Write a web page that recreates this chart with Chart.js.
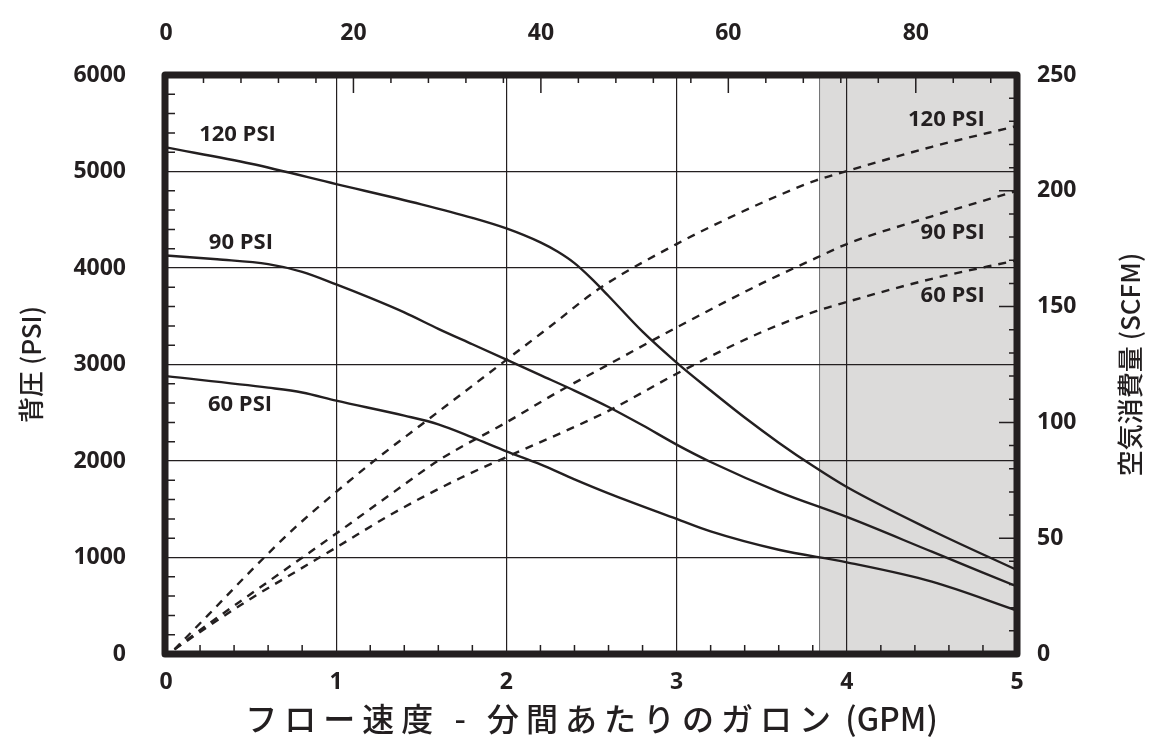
<!DOCTYPE html>
<html>
<head>
<meta charset="utf-8">
<script src="https://cdn.jsdelivr.net/npm/chart.js@4.4.1/dist/chart.umd.min.js"></script>
<style>
  html, body { margin: 0; padding: 0; background: #fff; }
  #wrap { width: 1152px; height: 742px; }
</style>
</head>
<body>
<div id="wrap"><canvas id="grafico" width="1152" height="742"></canvas></div>
<script>
// 背圧 (PSI) - solid curves, left axis
var gpm120 = [0, 0.5, 1.0, 1.5, 1.8, 2.0, 2.2, 2.3, 2.4, 2.5, 2.6, 2.8, 3.0, 3.2, 3.4, 3.6, 3.8, 4.0, 4.5, 5.0];
var psi120 = [5250, 5080, 4870, 4660, 4520, 4410, 4265, 4170, 4050, 3890, 3710, 3340, 3020, 2730, 2450, 2190, 1950, 1730, 1280, 870];

var gpm90 = [0, 0.3, 0.6, 0.8, 1.0, 1.2, 1.4, 1.6, 1.8, 2.0, 2.2, 2.4, 2.6, 2.8, 3.0, 3.2, 3.6, 4.0, 4.5, 5.0];
var psi90 = [4130, 4090, 4040, 3960, 3830, 3690, 3540, 3370, 3210, 3050, 2890, 2730, 2560, 2370, 2170, 1990, 1680, 1420, 1060, 700];

var gpm60 = [0, 0.6, 0.8, 1.0, 1.4, 1.6, 1.8, 2.0, 2.2, 2.4, 2.6, 3.0, 3.2, 3.6, 4.0, 4.5, 5.0];
var psi60 = [2880, 2760, 2710, 2625, 2470, 2380, 2245, 2100, 1965, 1810, 1665, 1400, 1270, 1080, 950, 750, 450];

// 空気消費量 (SCFM) - dashed curves, right axis
var gpmAr120 = [0.05, 0.25, 0.5, 0.75, 1.0, 1.25, 1.5, 1.75, 2.0, 2.25, 2.55, 3.0, 3.3, 3.6, 3.82, 4.0, 4.5, 5.0];
var scfm120 = [2, 17, 36, 54, 70, 85, 99, 113, 127, 141, 158, 177, 188, 198, 204.5, 208.5, 219, 228];

var gpmAr90 = [0.05, 0.25, 0.5, 0.75, 1.0, 1.34, 1.61, 2.0, 2.3, 2.6, 3.0, 3.5, 3.82, 4.0, 4.5, 5.0];
var scfm90 = [2, 13, 26, 39, 52, 70, 84, 100, 113, 125, 141, 160, 171, 177, 189, 200];

var gpmAr60 = [0.05, 0.25, 0.5, 0.75, 1.0, 1.34, 1.73, 2.0, 2.6, 3.0, 3.5, 3.82, 4.0, 4.5, 5.0];
var scfm60 = [2, 12, 24, 35, 46, 61, 76, 85, 105, 121, 139, 148, 152, 162, 170];

// axes
var ticksGpm = [0, 1, 2, 3, 4, 5];
var ticksTopo = [0, 20, 40, 60, 80];
var topoMax = 90.8;
var ticksPsi = [0, 1000, 2000, 3000, 4000, 5000, 6000];
var ticksScfm = [0, 50, 100, 150, 200, 250];

// shaded band (GPM)
var faixaInicio = 3.84;
var faixaFim = 5;

// curve labels (left ones in GPM/PSI, right ones in GPM/SCFM)
var rotulos = ['120 PSI', '90 PSI', '60 PSI'];
var rotEsqGpm = [0.42, 0.44, 0.435];
var rotEsqPsi = [5378, 4259, 2580];
var rotDirGpm = [4.81, 4.81, 4.81];
var rotDirScfm = [230.6, 181.8, 154.6];

var tituloX1 = 'フロー速度 - 分間あたりのガロン';
var tituloX2 = ' (GPM)';
var tituloY = '背圧 (PSI)';
var tituloY2 = '空気消費量 (SCFM)';

var escuro = '#231f20';
var fonteNum = '"Open Sans", "DejaVu Sans", sans-serif';
var fonteJp = '"Noto Sans CJK JP", "Noto Sans", sans-serif';

function pontos(xs, ys) {
    return xs.map(function (x, i) { return { x: x, y: ys[i] }; });
}

function curva(xs, ys, eixo, tracejada) {
    return {
        data: pontos(xs, ys),
        xAxisID: 'x',
        yAxisID: eixo,
        borderColor: escuro,
        borderWidth: 2.4,
        borderDash: tracejada ? [8, 7] : [],
        pointRadius: 0,
        fill: false,
        cubicInterpolationMode: 'monotone'
    };
}

function fixarTicks(valores) {
    return function (s) { s.ticks = valores.map(function (v) { return { value: v }; }); };
}

function semVirgula(v) { return String(v); }

var fonteTick = { family: fonteNum, size: 23, weight: 'bold' };

var moldura = {
    id: 'moldura',
    beforeDraw: function (chart) {
        var ctx = chart.ctx, a = chart.chartArea, x = chart.scales.x;
        var x0 = x.getPixelForValue(faixaInicio);
        var x1 = x.getPixelForValue(faixaFim);
        ctx.save();
        ctx.fillStyle = '#dcdbda';
        ctx.fillRect(x0, a.top, x1 - x0, a.bottom - a.top);
        ctx.strokeStyle = '#6d6e71';
        ctx.lineWidth = 1;
        ctx.beginPath();
        ctx.moveTo(x0, a.top);
        ctx.lineTo(x0, a.bottom);
        ctx.stroke();
        ctx.restore();
    },
    afterDraw: function (chart) {
        var ctx = chart.ctx, a = chart.chartArea, s = chart.scales;
        var i, p, len;
        ctx.save();
        ctx.strokeStyle = escuro;
        ctx.lineWidth = 1.5;
        ctx.beginPath();
        // bottom minor ticks, every 0.2 GPM
        for (i = 1; i < 25; i++) {
            if (i % 5 === 0) continue;
            p = s.x.getPixelForValue(i * 0.2);
            ctx.moveTo(p, a.bottom);
            ctx.lineTo(p, a.bottom - 9);
        }
        // left minor ticks, every 200 PSI
        for (i = 1; i < 30; i++) {
            if (i % 5 === 0) continue;
            p = s.y.getPixelForValue(i * 200);
            ctx.moveTo(a.left, p);
            ctx.lineTo(a.left + 9, p);
        }
        // top ticks, every 4
        for (i = 1; i * 4 < topoMax; i++) {
            len = (i % 5 === 0) ? 18 : 8;
            p = s.x2.getPixelForValue(i * 4);
            ctx.moveTo(p, a.top);
            ctx.lineTo(p, a.top + len);
        }
        // right ticks, every 10 SCFM
        for (i = 1; i < 25; i++) {
            len = (i % 5 === 0) ? 18 : 8;
            p = s.y2.getPixelForValue(i * 10);
            ctx.moveTo(a.right, p);
            ctx.lineTo(a.right - len, p);
        }
        ctx.stroke();

        // heavy frame
        ctx.lineWidth = 7;
        ctx.lineJoin = 'round';
        ctx.strokeRect(a.left - 1, a.top, a.right - a.left + 1, a.bottom - a.top);

        // curve labels
        ctx.fillStyle = escuro;
        ctx.font = 'bold 22px ' + fonteNum;
        ctx.textBaseline = 'middle';
        ctx.textAlign = 'center';
        for (i = 0; i < rotulos.length; i++) {
            ctx.fillText(rotulos[i], s.x.getPixelForValue(rotEsqGpm[i]), s.y.getPixelForValue(rotEsqPsi[i]));
        }
        ctx.textAlign = 'right';
        for (i = 0; i < rotulos.length; i++) {
            ctx.fillText(rotulos[i], s.x.getPixelForValue(rotDirGpm[i]), s.y2.getPixelForValue(rotDirScfm[i]));
        }

        // bottom title: wide-set japanese part, plain "(GPM)"
        ctx.textAlign = 'left';
        ctx.font = '500 32px ' + fonteJp;
        ctx.letterSpacing = '7px';
        var w1 = ctx.measureText(tituloX1).width;
        ctx.letterSpacing = '0px';
        var w2 = ctx.measureText(tituloX2).width;
        var xi = (a.left + a.right) / 2 - (w1 + w2) / 2;
        ctx.letterSpacing = '7px';
        ctx.fillText(tituloX1, xi, 719);
        ctx.letterSpacing = '0px';
        ctx.fillText(tituloX2, xi + w1, 719);

        // right title, reading bottom to top
        ctx.textAlign = 'center';
        ctx.font = '500 26px ' + fonteJp;
        ctx.translate(1130, (a.top + a.bottom) / 2);
        ctx.rotate(-Math.PI / 2);
        ctx.fillText(tituloY2, 0, 0);
        ctx.restore();
    }
};

var ctx = document.getElementById('grafico').getContext('2d');
var grafico = new Chart(ctx, {
    type: 'line',
    data: {
        datasets: [
            curva(gpm120, psi120, 'y', false),
            curva(gpm90, psi90, 'y', false),
            curva(gpm60, psi60, 'y', false),
            curva(gpmAr120, scfm120, 'y2', true),
            curva(gpmAr90, scfm90, 'y2', true),
            curva(gpmAr60, scfm60, 'y2', true)
        ]
    },
    options: {
        responsive: false,
        animation: false,
        devicePixelRatio: 1,
        layout: { padding: 0 },
        plugins: { legend: { display: false }, tooltip: { enabled: false } },
        scales: {
            x: {
                type: 'linear', position: 'bottom', min: 0, max: 5,
                afterBuildTicks: fixarTicks(ticksGpm),
                afterFit: function (s) { s.height = 88; },
                grid: { color: escuro, lineWidth: 1.2, drawTicks: false },
                border: { display: false },
                ticks: { padding: 15, color: escuro, font: fonteTick, maxRotation: 0, callback: semVirgula }
            },
            x2: {
                type: 'linear', position: 'top', min: 0, max: topoMax,
                afterBuildTicks: fixarTicks(ticksTopo),
                afterFit: function (s) { s.height = 75; },
                grid: { display: false, drawTicks: false },
                border: { display: false },
                ticks: { padding: 28, color: escuro, font: fonteTick, maxRotation: 0, callback: semVirgula }
            },
            y: {
                type: 'linear', position: 'left', min: 0, max: 6000,
                afterBuildTicks: fixarTicks(ticksPsi),
                afterFit: function (s) { s.width = 166; },
                grid: { color: escuro, lineWidth: 1.2, drawTicks: false },
                border: { display: false },
                ticks: { padding: 40, color: escuro, font: fonteTick, callback: semVirgula },
                title: {
                    display: true, text: tituloY, color: escuro,
                    font: { family: fonteJp, size: 26, weight: '500' },
                    padding: { top: 16, bottom: 0 }
                }
            },
            y2: {
                type: 'linear', position: 'right', min: 0, max: 250,
                afterBuildTicks: fixarTicks(ticksScfm),
                afterFit: function (s) { s.width = 135; },
                grid: { display: false, drawTicks: false },
                border: { display: false },
                ticks: { padding: 20, color: escuro, font: fonteTick, callback: semVirgula }
            }
        }
    },
    plugins: [moldura]
});
</script>
</body>
</html>
